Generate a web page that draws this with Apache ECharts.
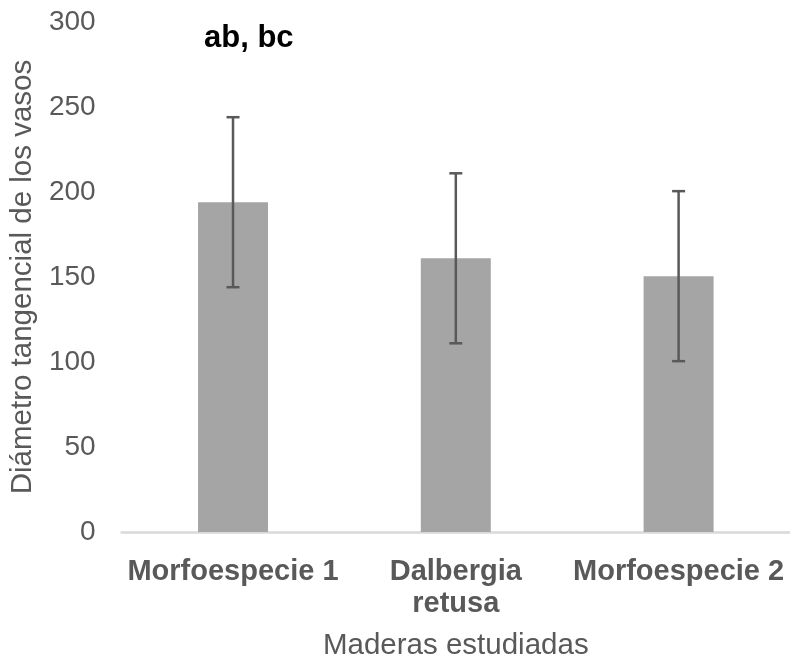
<!DOCTYPE html>
<html>
<head>
<meta charset="utf-8">
<script src="https://cdn.jsdelivr.net/npm/echarts@6/dist/echarts.min.js"></script>
<style>html,body{margin:0;padding:0;background:#fff}#c{width:790px;height:666px}</style>
</head>
<body>
<div id="c"></div>
<script>
const categories = ['Morfoespecie 1', 'Dalbergia\nretusa', 'Morfoespecie 2'];
const means = [194, 161, 150.5];
const errors = [50, 50, 50];
const yTicks = [0, 50, 100, 150, 200, 250, 300];
const annotation = 'ab, bc';
const xTitle = 'Maderas estudiadas';
const yTitle = 'Diámetro tangencial de los vasos';

const FONT = "'Liberation Sans', Arial, Helvetica, sans-serif";
const chart = echarts.init(document.getElementById('c'), null, {renderer: 'canvas'});

const errData = means.map((m, i) => [i, m - errors[i], m + errors[i]]);

chart.setOption({
  animation: false,
  backgroundColor: '#ffffff',
  grid: {left: 121, right: 0, top: 22, bottom: 126, containLabel: false},
  xAxis: {
    type: 'category',
    data: categories,
    axisLine: {show: true, lineStyle: {color: '#d9d9d9', width: 2.5}},
    axisTick: {show: false},
    axisLabel: {color: '#595959', fontFamily: FONT, fontWeight: 'bold', fontSize: 29, lineHeight: 32, margin: 24, interval: 0},
    name: xTitle,
    nameLocation: 'middle',
    nameGap: 99,
    nameTextStyle: {color: '#595959', fontFamily: FONT, fontSize: 29.5}
  },
  yAxis: {
    type: 'value',
    min: yTicks[0],
    max: yTicks[yTicks.length - 1],
    interval: 50,
    splitLine: {show: false},
    axisLine: {show: false},
    axisTick: {show: false},
    axisLabel: {color: '#595959', fontFamily: FONT, fontSize: 28, margin: 26},
    name: yTitle,
    nameLocation: 'middle',
    nameGap: 82,
    nameRotate: 90,
    nameTextStyle: {color: '#595959', fontFamily: FONT, fontSize: 29.5}
  },
  series: [
    {
      type: 'bar',
      data: means,
      barWidth: 70,
      itemStyle: {color: '#a5a5a5'}
    },
    {
      type: 'custom',
      data: errData,
      z: 10,
      renderItem: function (params, api) {
        const x = api.value(0);
        const lo = api.coord([x, api.value(1)]);
        const hi = api.coord([x, api.value(2)]);
        const hw = 6.5;
        const style = {stroke: '#595959', lineWidth: 2.5};
        return {
          type: 'group',
          children: [
            {type: 'line', shape: {x1: lo[0], y1: lo[1], x2: hi[0], y2: hi[1]}, style: style},
            {type: 'line', shape: {x1: hi[0] - hw, y1: hi[1], x2: hi[0] + hw, y2: hi[1]}, style: style},
            {type: 'line', shape: {x1: lo[0] - hw, y1: lo[1], x2: lo[0] + hw, y2: lo[1]}, style: style}
          ]
        };
      }
    }
  ],
  graphic: [
    {
      type: 'text',
      left: 204,
      top: 23,
      style: {text: annotation, fill: '#000000', font: "bold 31px " + FONT}
    }
  ]
});
</script>
</body>
</html>
